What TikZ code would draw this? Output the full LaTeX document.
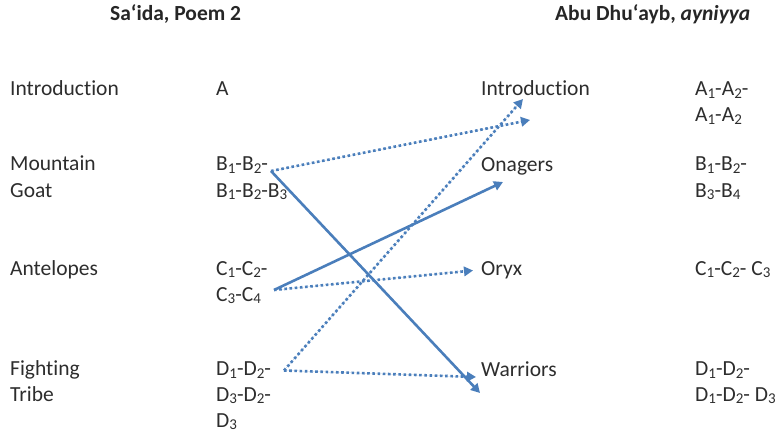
\documentclass[tikz,border=0pt]{standalone}
\usepackage{fontspec}
\setmainfont{Carlito}[Ligatures={NoCommon,NoContextual}]
\usetikzlibrary{arrows.meta}
\definecolor{arrowblue}{RGB}{74,126,187}
\definecolor{txt}{RGB}{45,45,45}
\newcommand\sbs[1]{\raisebox{-0.13em}{\fontsize{15}{15}\selectfont #1}}
\tikzset{
  lbl/.style={anchor=base west, inner sep=0pt, text=txt, font=\fontsize{21.5}{25.7}\selectfont},
  ttl/.style={lbl, font=\fontsize{21.5}{25.7}\selectfont\bfseries, text=black!85},
  solidarrow/.style={draw=arrowblue, line width=2.6pt, -{Triangle[width=9.5pt,length=9pt]}, fill=arrowblue},
  dotarrow/.style={draw=arrowblue, line width=2.6pt, dash pattern=on 2.6pt off 2.6pt, -{Triangle[width=9.5pt,length=9pt]}, fill=arrowblue},
}
\begin{document}
\begin{tikzpicture}[x=1pt,y=-1pt]
\useasboundingbox (0,0) rectangle (777,433);
% titles
\node[ttl] (t1) at (110,21) {Saʻida, Poem 2};
\node[ttl] (t2) at (555,21) {Abu Dhuʻayb, \textit{ayniyya}};
% left column
\node[lbl] (l1) at (10,96) {Introduction};
\node[lbl] (l2a) at (10,171) {Mountain};
\node[lbl] (l2b) at (10,197) {Goat};
\node[lbl] (l3) at (10,275) {Antelopes};
\node[lbl] (l4a) at (10,375.5) {Fighting};
\node[lbl] (l4b) at (10,401) {Tribe};
% second column
\node[lbl] (sa) at (216,96) {A};
\node[lbl] (sb1) at (216,171) {B\sbs{1}-B\sbs{2}-};
\node[lbl] (sb2) at (216,197) {B\sbs{1}-B\sbs{2}-B\sbs{3}};
\node[lbl] (sc1) at (216,275) {C\sbs{1}-C\sbs{2}-};
\node[lbl] (sc2) at (216,301) {C\sbs{3}-C\sbs{4}};
\node[lbl] (sd1) at (216,375.5) {D\sbs{1}-D\sbs{2}-};
\node[lbl] (sd2) at (216,401) {D\sbs{3}-D\sbs{2}-};
\node[lbl] (sd3) at (216,427) {D\sbs{3}};
% third column
\node[lbl] (r1) at (481,96) {Introduction};
\node[lbl] (r2) at (481,172) {Onagers};
\node[lbl] (r3) at (481,275) {Oryx};
\node[lbl] (r4) at (481,376.5) {Warriors};
% fourth column
\node[lbl] (ra1) at (695,96) {A\sbs{1}-A\sbs{2}-};
\node[lbl] (ra2) at (695,122) {A\sbs{1}-A\sbs{2}};
\node[lbl] (rb1) at (695,171) {B\sbs{1}-B\sbs{2}-};
\node[lbl] (rb2) at (695,197) {B\sbs{3}-B\sbs{4}};
\node[lbl] (rc) at (695,275) {C\sbs{1}-C\sbs{2}- C\sbs{3}};
\node[lbl] (rd1) at (695,375.5) {D\sbs{1}-D\sbs{2}-};
\node[lbl] (rd2) at (695,401) {D\sbs{1}-D\sbs{2}- D\sbs{3}};
% connector end points
\coordinate (bs) at (271,171);
\coordinate (cs) at (274,290);
\coordinate (ds) at (284,370.5);
\coordinate (eIntroLow) at (530,120);
\coordinate (eIntroUp) at (523,99);
\coordinate (eOnag) at (503,182);
\coordinate (eOryx) at (473,270.5);
\coordinate (eWarDot) at (476,377);
\coordinate (eWarSol) at (480,393);
% connectors
\draw[dotarrow] (bs) -- (eIntroLow);
\draw[solidarrow] (bs) -- (eWarSol);
\draw[solidarrow] (cs) -- (eOnag);
\draw[dotarrow] (cs) -- (eOryx);
\draw[dotarrow] (ds) -- (eIntroUp);
\draw[dotarrow] (ds) -- (eWarDot);
\end{tikzpicture}
\end{document}
